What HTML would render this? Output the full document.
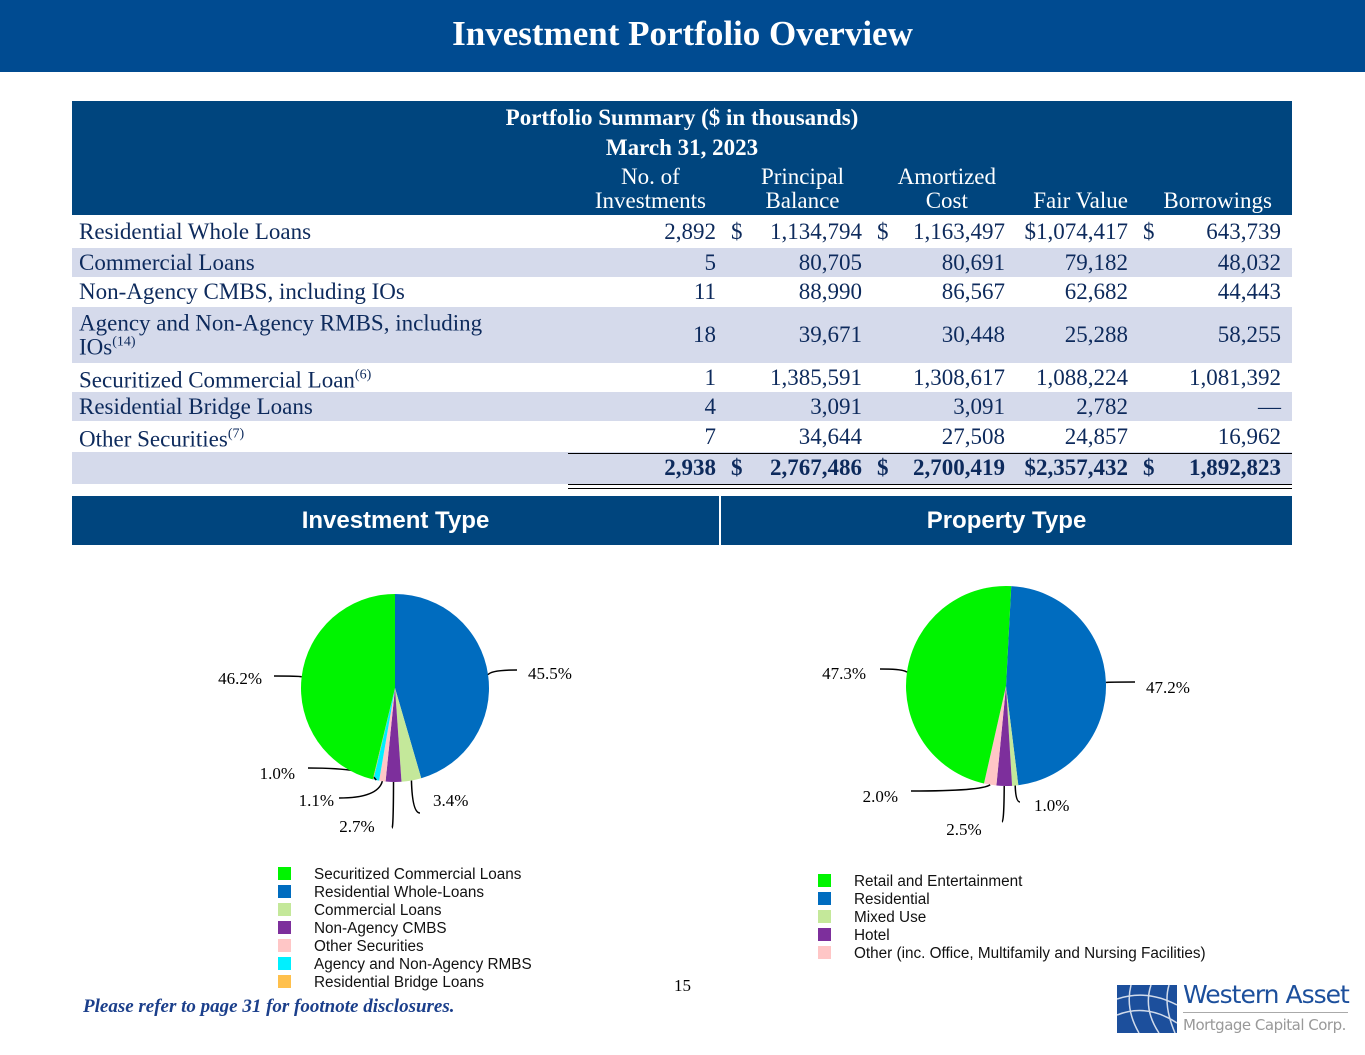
<!DOCTYPE html>
<html><head><meta charset="utf-8"><style>
body{margin:0;width:1365px;height:1055px;background:#fff;position:relative;overflow:hidden;font-family:"Liberation Serif",serif}
.abs{position:absolute}
#title{left:0;top:0;width:1365px;height:72px;background:#004b91;color:#fff;font-weight:bold;font-size:35px;text-align:center;line-height:68px}
#thead{left:72px;top:101px;width:1220px;height:114px;background:#00457e;color:#fff}
.row{position:absolute;left:72px;width:1220px;font-size:23px;color:#0d2a5c}
.row span{position:absolute;top:50%;transform:translateY(-50%);white-space:nowrap}
.alt{background:#d5daeb}
.sec{position:absolute;top:496px;height:49px;background:#00457e;color:#fff;font-family:"Liberation Sans",sans-serif;font-weight:bold;font-size:24px;text-align:center;line-height:49px}
</style></head><body>
<div id="title" class="abs">Investment Portfolio Overview</div>
<div id="thead" class="abs">
<div class="abs" style="left:0;width:1220px;top:2px;text-align:center;font-weight:bold;font-size:23px;line-height:30px">Portfolio Summary ($ in thousands)<br>March 31, 2023</div>
<div class="abs" style="right:586px;top:64px;text-align:center;font-size:23px;line-height:24px">No. of<br>Investments</div>
<div class="abs" style="right:448px;top:64px;text-align:center;font-size:23px;line-height:24px">Principal<br>Balance</div>
<div class="abs" style="right:296px;top:64px;text-align:center;font-size:23px;line-height:24px">Amortized<br>Cost</div>
<div class="abs" style="right:164px;top:88px;font-size:23px;line-height:24px">Fair Value</div>
<div class="abs" style="right:20px;top:88px;font-size:23px;line-height:24px">Borrowings</div>
</div>
<div id="rows"></div>
<div class="abs" style="left:568px;top:453px;width:724px;border-top:1px solid #000"></div>
<div class="abs" style="left:568px;top:484px;width:724px;height:3px;border-top:1px solid #000;border-bottom:1px solid #000"></div>
<div class="sec" style="left:72px;width:647px">Investment Type</div>
<div class="sec" style="left:721px;width:571px">Property Type</div>
<svg class="abs" style="left:0;top:0" width="1365" height="1055" id="pies"></svg>
<div class="abs" style="left:674px;top:976px;font-size:17px">15</div>
<div class="abs" style="left:83px;top:996px;font-size:19px;font-weight:bold;font-style:italic;color:#1b3f8b">Please refer to page 31 for footnote disclosures.</div>
<div class="abs" style="left:1117px;top:985px;width:60px;height:48px">
<svg width="60" height="48"><rect width="60" height="48" fill="#1c4f9c"/><g stroke="#fff" stroke-width="1.5" fill="none" opacity=".8"><path d="M0 14 Q30 4 60 20"/><path d="M0 30 Q30 18 60 38"/><path d="M14 0 Q8 24 22 48"/><path d="M34 0 Q26 24 42 48"/><path d="M52 0 Q46 20 58 48"/></g></svg></div>
<div class="abs" style="left:1183px;top:980px;font-family:'DejaVu Sans',sans-serif;font-size:25px;color:#1c4f9c;letter-spacing:-1px">Western Asset</div>
<div class="abs" style="left:1183px;top:1012px;width:165px;border-top:1px solid #aaa"></div>
<div class="abs" style="left:1183px;top:1016px;font-family:'DejaVu Sans',sans-serif;font-size:15px;color:#999;letter-spacing:-.5px">Mortgage Capital Corp.</div>
<script>
const rowLabels=["Residential Whole Loans","Commercial Loans","Non-Agency CMBS, including IOs","Agency and Non-Agency RMBS, including<br>IOs<sup style='font-size:14px'>(14)</sup>","Securitized Commercial Loan<sup style='font-size:14px'>(6)</sup>","Residential Bridge Loans","Other Securities<sup style='font-size:14px'>(7)</sup>",""];
const rowVals=[["2,892","1,134,794","1,163,497","$1,074,417","643,739"],["5","80,705","80,691","79,182","48,032"],["11","88,990","86,567","62,682","44,443"],["18","39,671","30,448","25,288","58,255"],["1","1,385,591","1,308,617","1,088,224","1,081,392"],["4","3,091","3,091","2,782","—"],["7","34,644","27,508","24,857","16,962"],["2,938","2,767,486","2,700,419","$2,357,432","1,892,823"]];
const rowTops=[216,248,277,307,363,392,421,452],rowH=[31,29,30,56,29,29,31,32];
const rights=[716,862,1005,1128,1281];
const rc=document.getElementById('rows');
rowLabels.forEach((l,i)=>{
 const d=document.createElement('div');d.className='row'+(i%2?' alt':'');
 
 
 d.style.top=rowTops[i]+'px';d.style.height=rowH[i]+'px';
 if(i==7)d.style.fontWeight='bold';
 let h=`<span style="left:7px;line-height:${i==3?19:24}px">${l}</span>`;
 rowVals[i].forEach((v,j)=>{h+=`<span style="right:${1292-rights[j]}px">${v}</span>`});
 if(i==0||i==7)[737,883,1149].forEach(x=>{h+=`<span style="left:${x-72-6}px">$</span>`});
 d.innerHTML=h;rc.appendChild(d);
});
const invCats=["Securitized Commercial Loans","Residential Whole-Loans","Commercial Loans","Non-Agency CMBS","Other Securities","Agency and Non-Agency RMBS","Residential Bridge Loans"];
const invVals=[46.2,45.5,3.4,2.7,1.1,1.0,0.1];
const invLabels=["46.2%","45.5%","3.4%","2.7%","1.1%","1.0%",""];
const invColors=["#00f400","#006cbf","#c4e89a","#7d2f9c","#ffc6c6","#00f0ff","#ffc04c"];
const propCats=["Retail and Entertainment","Residential","Mixed Use","Hotel","Other (inc. Office, Multifamily and Nursing Facilities)"];
const propVals=[47.3,47.2,1.0,2.5,2.0];
const propLabels=["47.3%","47.2%","1.0%","2.5%","2.0%"];
const propColors=["#00f400","#006cbf","#c4e89a","#7d2f9c","#ffc6c6"];
const svg=document.getElementById('pies'),NS='http://www.w3.org/2000/svg';
function el(t,a){const e=document.createElementNS(NS,t);for(const k in a)e.setAttribute(k,a[k]);svg.appendChild(e);return e}
function pie(cx,cy,r,vals,cols,labels,start,order,labPos,prefix){
 const tot=vals.reduce((a,b)=>a+b,0);let a=start;
 order.forEach(idx=>{
  const v=vals[idx],a0=a,a1=a+v/tot*360;a=a1;
  const p=t=>[cx+r*Math.sin(t*Math.PI/180),cy-r*Math.cos(t*Math.PI/180)];
  const [x0,y0]=p(a0),[x1,y1]=p(a1);
  const path=el('path',{d:`M${cx},${cy}L${x0},${y0}A${r},${r} 0 ${a1-a0>180?1:0} 1 ${x1},${y1}Z`,fill:cols[idx]});
  
  
  if(labels[idx]&&labPos[idx]){
   const m=(a0+a1)/2,[mx,my]=p(m),[ex,ey,tx,ty,anch]=labPos[idx];
   el('path',{d:`M${mx},${my}Q${mx+(ex-mx)*0.1},${ey} ${ex},${ey}`,stroke:'#000','stroke-width':1.5,fill:'none'});
   const t=el('text',{x:tx,y:ty,'font-size':17,'font-family':'Liberation Serif, serif','text-anchor':anch});t.textContent=labels[idx];
   
   
  }
 });
}
pie(395,688,94,invVals,invColors,invLabels,0,[1,2,3,4,5,6,0],
 [[274,676,262,684,'end'],[517,670,528,679,'start'],[420,813,433,806,'start'],[392,828,357,832,'middle'],[339,798,334,806,'end'],[308,768,295,779,'end'],null],'investment');
pie(1006,686,100,propVals,propColors,propLabels,3,[1,2,3,4,0],
 [[880,669,866,679,'end'],[1135,682,1146,693,'start'],[1020,802,1034,811,'start'],[1002,822,964,835,'middle'],[911,791,898,802,'end']],'property');
function legend(x,y,cats,cols,prefix){cats.forEach((c,i)=>{
 const r=el('rect',{x:x,y:y+i*18,width:13,height:13,fill:cols[i]});
 
 
 const t=el('text',{x:x+36,y:y+i*18+12,'font-size':15.3,'font-family':'Liberation Sans, sans-serif',fill:'#111'});t.textContent=c;
 
 
});}
legend(278,867,invCats,invColors,'investment');
legend(818,874,propCats,propColors,'property');
</script>
</body></html>
